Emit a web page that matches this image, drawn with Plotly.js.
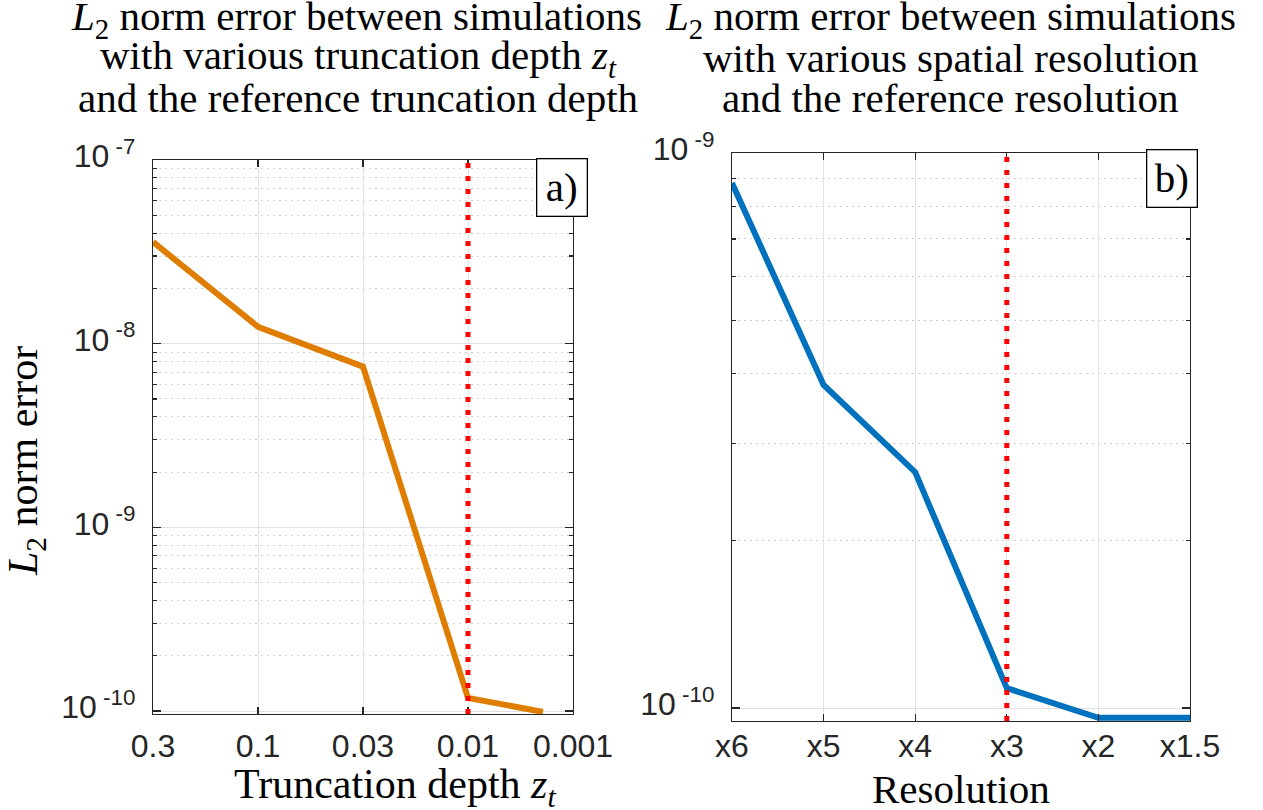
<!DOCTYPE html>
<html>
<head>
<meta charset="utf-8">
<script src="https://cdn.plot.ly/plotly-3.0.1.min.js"></script>
<style>
html,body{margin:0;padding:0;background:#fff;}
#chart{width:1263px;height:810px;}
</style>
</head>
<body>
<div id="chart"></div>
<script>
// ---- data ----
const truncLabels = ['0.3', '0.1', '0.03', '0.01', '0.001'];
const truncTickPos = [1, 2, 3, 4, 5];
const truncX = [1, 2, 3, 4, 4.714];
const truncErr = [3.58e-8, 1.235e-8, 7.5e-9, 1.18e-10, 9.88e-11];
const truncRefPos = 4;   // reference truncation depth (0.01)

const resLabels = ['x6', 'x5', 'x4', 'x3', 'x2', 'x1.5'];
const resTickPos = [1, 2, 3, 4, 5, 6];
const resX = [1, 2, 3, 4, 5, 6];
const resErr = [8.83e-10, 3.82e-10, 2.66e-10, 1.086e-10, 9.6e-11, 9.6e-11];
const resRefPos = 4;     // reference resolution (x3)

const yMajorA = [1e-10, 1e-9, 1e-8, 1e-7];
const yMajorLabelsA = ['10<sup> -10</sup>', '10<sup> -9</sup>', '10<sup> -8</sup>', '10<sup> -7</sup>'];
const yMajorB = [1e-10, 1e-9];
const yMajorLabelsB = ['10<sup> -10</sup>', '10<sup> -9</sup>'];

// ---- layout helpers ----
const W = 1263, H = 810;
const px = v => v / W;
const py = v => 1 - v / H;

function minorVals(lo, hi) {
  const out = [];
  for (let e = lo; e < hi; e++) for (let m = 2; m <= 9; m++) out.push(m * Math.pow(10, e));
  return out;
}

const axisColor = '#262626';
const tickFont = {family: 'Liberation Sans, Arial, sans-serif', size: 32, color: axisColor};
const serif = 'Liberation Serif, Times New Roman, serif';

function xAxis(domain, tickvals, ticktext, range, anchor, standoff) {
  return {
    domain: domain, range: range, tickmode: 'array', tickvals: tickvals, ticktext: ticktext,
    showgrid: true, gridcolor: '#e3e3e3', gridwidth: 1, zeroline: false,
    showline: true, linecolor: axisColor, linewidth: 1.2, mirror: 'ticks',
    ticks: 'inside', ticklen: 7, tickwidth: 1.2, tickcolor: axisColor,
    tickfont: tickFont, ticklabelstandoff: standoff, anchor: anchor, fixedrange: true
  };
}
function yAxis(domain, range, tickvals, ticktext, minor, anchor) {
  return {
    type: 'log', domain: domain, range: range, tickmode: 'array', tickvals: tickvals, ticktext: ticktext,
    showgrid: true, gridcolor: '#e0e0e0', gridwidth: 1, zeroline: false,
    showline: true, linecolor: axisColor, linewidth: 1.2, mirror: 'ticks',
    ticks: 'inside', ticklen: 8, tickwidth: 1.2, tickcolor: axisColor,
    tickfont: tickFont, ticklabelstandoff: 10, ticklabelshift: -4, anchor: anchor, fixedrange: true,
    minor: {tickmode: 'array', tickvals: minor, ticks: 'inside', ticklen: 4, tickwidth: 1.1,
            tickcolor: axisColor, showgrid: true, gridcolor: '#cfcfcf', gridwidth: 1, griddash: '2px,4px'}
  };
}

const traces = [
  {x: truncX, y: truncErr, xaxis: 'x', yaxis: 'y', mode: 'lines', type: 'scatter',
   line: {color: '#DE7D00', width: 6}, hoverinfo: 'skip'},
  {x: resX, y: resErr, xaxis: 'x2', yaxis: 'y2', mode: 'lines', type: 'scatter',
   line: {color: '#0072BD', width: 6}, hoverinfo: 'skip'}
];

const titleFont = {family: serif, size: 41, color: '#000'};
function ann(text, x, y, extra) {
  return Object.assign({text: text, x: px(x), y: py(y), xref: 'paper', yref: 'paper',
    xanchor: 'center', yanchor: 'middle', showarrow: false, font: titleFont}, extra || {});
}
const labelFont = {family: serif, size: 42, color: '#000'};

const annotations = [
  ann('<i>L</i><sub>2</sub> norm error between simulations', 356, 19),
  ann('with various truncation depth <i>z</i><sub><i>t</i></sub>', 358, 58),
  ann('and the reference truncation depth', 358, 98),
  ann('<i>L</i><sub>2</sub> norm error between simulations', 950, 19),
  ann('with various spatial resolution', 950, 58),
  ann('and the reference resolution', 950, 98),
  ann('Truncation depth <i>z</i><sub><i>t</i></sub>', 395, 787, {font: labelFont}),
  ann('Resolution', 961, 789),
  ann('<i>L</i><sub>2</sub> norm error', 26, 461, {textangle: -90, font: labelFont}),
  ann('a)', 561.5, 188, {bgcolor: '#fff', bordercolor: '#000', borderwidth: 1.3, borderpad: 2, width: 45, height: 52}),
  ann('b)', 1171.5, 178, {bgcolor: '#fff', bordercolor: '#000', borderwidth: 1.3, borderpad: 2, width: 45, height: 52})
];

const shapes = [
  {type: 'line', xref: 'x', yref: 'y domain', x0: truncRefPos, x1: truncRefPos, y0: 0, y1: 1,
   line: {color: '#FF0000', width: 5, dash: '5px,8px'}},
  {type: 'line', xref: 'x2', yref: 'y2 domain', x0: resRefPos, x1: resRefPos, y0: 0, y1: 1,
   line: {color: '#FF0000', width: 5, dash: '5px,8px'}}
];

const layout = {
  width: W, height: H, autosize: false, showlegend: false,
  margin: {l: 0, r: 0, t: 0, b: 0, pad: 0},
  paper_bgcolor: '#fff', plot_bgcolor: '#fff',
  xaxis: xAxis([px(153), px(573)], truncTickPos, truncLabels, [1, 5], 'y', 3),
  yaxis: yAxis([py(714), py(160)], [-10.016, -7], yMajorA, yMajorLabelsA, minorVals(-10, -7), 'x'),
  xaxis2: xAxis([px(732), px(1190)], resTickPos, resLabels, [1, 6], 'y2', -4),
  yaxis2: yAxis([py(721), py(153)], [-10.0234, -9], yMajorB, yMajorLabelsB, minorVals(-10, -9), 'x2'),
  annotations: annotations,
  shapes: shapes
};

Plotly.newPlot('chart', traces, layout, {displayModeBar: false, staticPlot: true});
</script>
</body>
</html>
